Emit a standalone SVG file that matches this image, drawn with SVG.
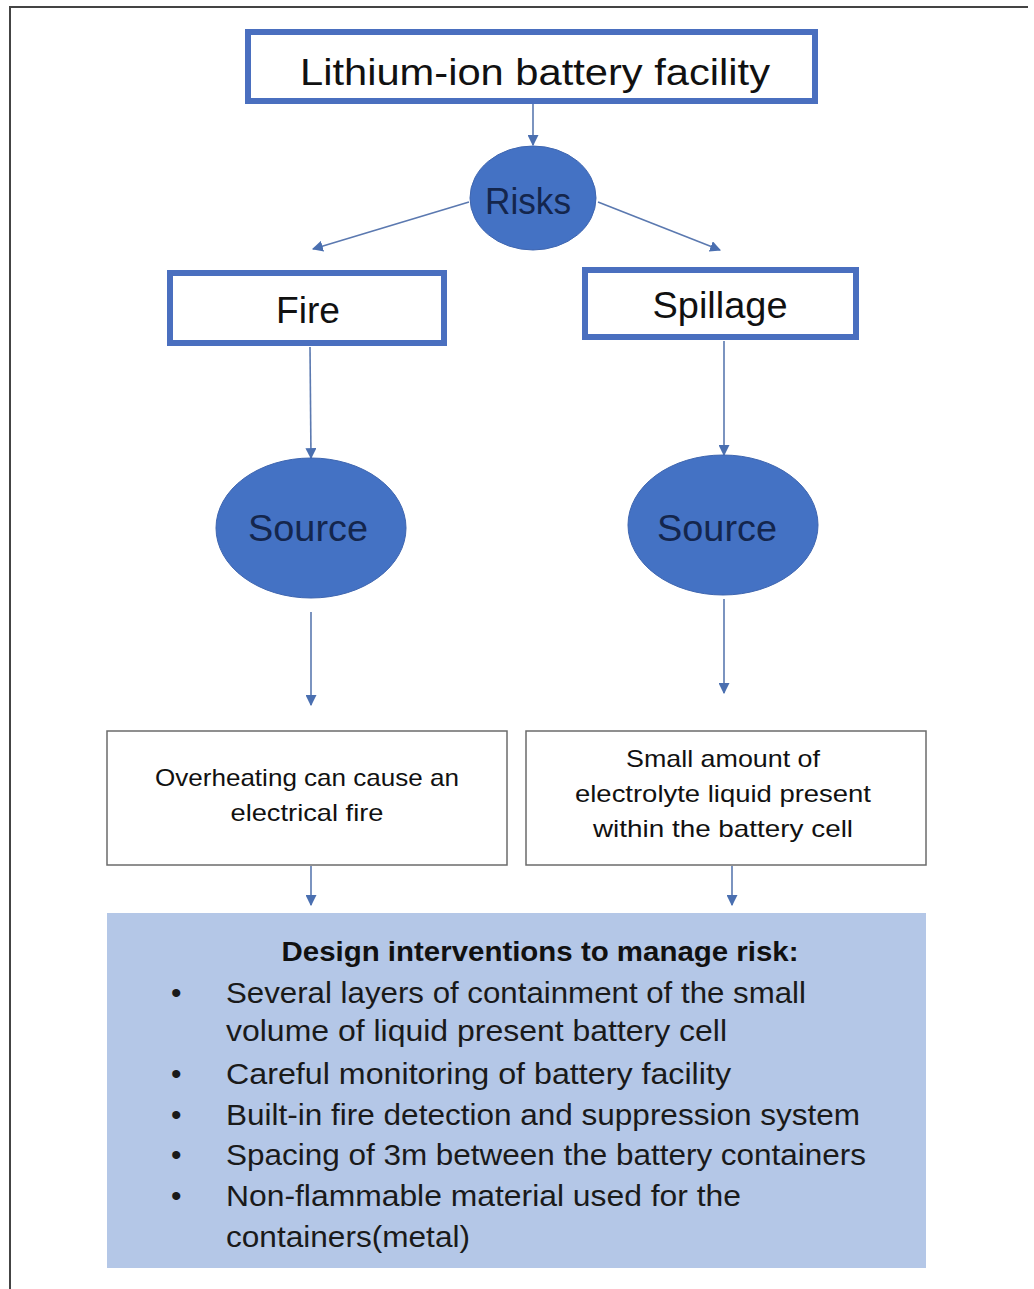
<svg xmlns="http://www.w3.org/2000/svg" width="1034" height="1289" viewBox="0 0 1034 1289">
<style>
.bx{fill:#fff;stroke:#4a6fbf;stroke-width:6}
.tb{fill:#fff;stroke:#6b6b6b;stroke-width:1.5}
.el{fill:#4472c4;stroke:#3f66b0;stroke-width:1}
.t{font-family:"Liberation Sans",Arial,sans-serif;fill:#111;text-anchor:middle}
.et{font-family:"Liberation Sans",Arial,sans-serif;fill:#14264d;text-anchor:middle}
.b{font-family:"Liberation Sans",Arial,sans-serif;fill:#1a1a1a}
.c{fill:none;stroke:#5b79b0;stroke-width:1.6}
</style>
<defs>
<marker id="ah" viewBox="0 0 10 10" refX="9" refY="5" markerWidth="11" markerHeight="11" markerUnits="userSpaceOnUse" orient="auto">
<path d="M0,0 L10,5 L0,10 z" fill="#4a6fb0"/>
</marker>
</defs>
<rect width="1034" height="1289" fill="#fff"/>
<path d="M10,1289 V7 H1028" fill="none" stroke="#444" stroke-width="2"/>

<g id="connectors">
<line class="c" x1="533" y1="104" x2="533" y2="145" marker-end="url(#ah)"/>
<line class="c" x1="469" y1="202" x2="313" y2="249" marker-end="url(#ah)"/>
<line class="c" x1="598" y1="202" x2="720" y2="250" marker-end="url(#ah)"/>
<line class="c" x1="310" y1="347" x2="311" y2="458" marker-end="url(#ah)"/>
<line class="c" x1="724" y1="341" x2="724" y2="455" marker-end="url(#ah)"/>
<line class="c" x1="311" y1="612" x2="311" y2="705" marker-end="url(#ah)"/>
<line class="c" x1="724" y1="599" x2="724" y2="693" marker-end="url(#ah)"/>
<line class="c" x1="311" y1="866" x2="311" y2="905" marker-end="url(#ah)"/>
<line class="c" x1="732" y1="866" x2="732" y2="905" marker-end="url(#ah)"/>
</g>

<g id="facility">
<rect class="bx" x="248" y="32" width="567" height="69"/>
<text class="t" x="535" y="85" font-size="37" textLength="470" lengthAdjust="spacingAndGlyphs">Lithium-ion battery facility</text>
</g>
<g id="risks">
<ellipse class="el" cx="533" cy="198" rx="63" ry="52"/>
<text class="et" x="528" y="214" font-size="36" textLength="86" lengthAdjust="spacingAndGlyphs">Risks</text>
</g>
<g id="fire">
<rect class="bx" x="170" y="273" width="274" height="70"/>
<text class="t" x="308" y="323" font-size="36" textLength="64" lengthAdjust="spacingAndGlyphs">Fire</text>
</g>
<g id="spillage">
<rect class="bx" x="585" y="270" width="271" height="67"/>
<text class="t" x="720" y="318" font-size="36" textLength="135" lengthAdjust="spacingAndGlyphs">Spillage</text>
</g>
<g id="source-fire">
<ellipse class="el" cx="311" cy="528" rx="95" ry="70"/>
<text class="et" x="308" y="541" font-size="37" textLength="120" lengthAdjust="spacingAndGlyphs">Source</text>
</g>
<g id="source-spillage">
<ellipse class="el" cx="723" cy="525" rx="95" ry="70"/>
<text class="et" x="717" y="541" font-size="37" textLength="120" lengthAdjust="spacingAndGlyphs">Source</text>
</g>
<g id="overheating">
<rect class="tb" x="107" y="731" width="400" height="134"/>
<text class="t" x="307" y="786" font-size="24" textLength="304" lengthAdjust="spacingAndGlyphs">Overheating can cause an</text>
<text class="t" x="307" y="821" font-size="24" textLength="153" lengthAdjust="spacingAndGlyphs">electrical fire</text>
</g>
<g id="electrolyte">
<rect class="tb" x="526" y="731" width="400" height="134"/>
<text class="t" x="723" y="767" font-size="24" textLength="194" lengthAdjust="spacingAndGlyphs">Small amount of</text>
<text class="t" x="723" y="802" font-size="24" textLength="296" lengthAdjust="spacingAndGlyphs">electrolyte liquid present</text>
<text class="t" x="723" y="837" font-size="24" textLength="260" lengthAdjust="spacingAndGlyphs">within the battery cell</text>
</g>
<g id="interventions">
<rect x="107" y="913" width="819" height="355" fill="#b4c7e7"/>
<text class="t" x="540" y="961" font-size="27" font-weight="bold" textLength="517" lengthAdjust="spacingAndGlyphs">Design interventions to manage risk:</text>
<g class="b" font-size="30">
<text x="171" y="1003">•</text>
<text x="226" y="1003" textLength="580" lengthAdjust="spacingAndGlyphs">Several layers of containment of the small</text>
<text x="226" y="1041" textLength="501" lengthAdjust="spacingAndGlyphs">volume of liquid present battery cell</text>
<text x="171" y="1084">•</text>
<text x="226" y="1084" textLength="505" lengthAdjust="spacingAndGlyphs">Careful monitoring of battery facility</text>
<text x="171" y="1125">•</text>
<text x="226" y="1125" textLength="634" lengthAdjust="spacingAndGlyphs">Built-in fire detection and suppression system</text>
<text x="171" y="1165">•</text>
<text x="226" y="1165" textLength="640" lengthAdjust="spacingAndGlyphs">Spacing of 3m between the battery containers</text>
<text x="171" y="1206">•</text>
<text x="226" y="1206" textLength="515" lengthAdjust="spacingAndGlyphs">Non-flammable material used for the</text>
<text x="226" y="1247" textLength="244" lengthAdjust="spacingAndGlyphs">containers(metal)</text>
</g>
</g>
</svg>
